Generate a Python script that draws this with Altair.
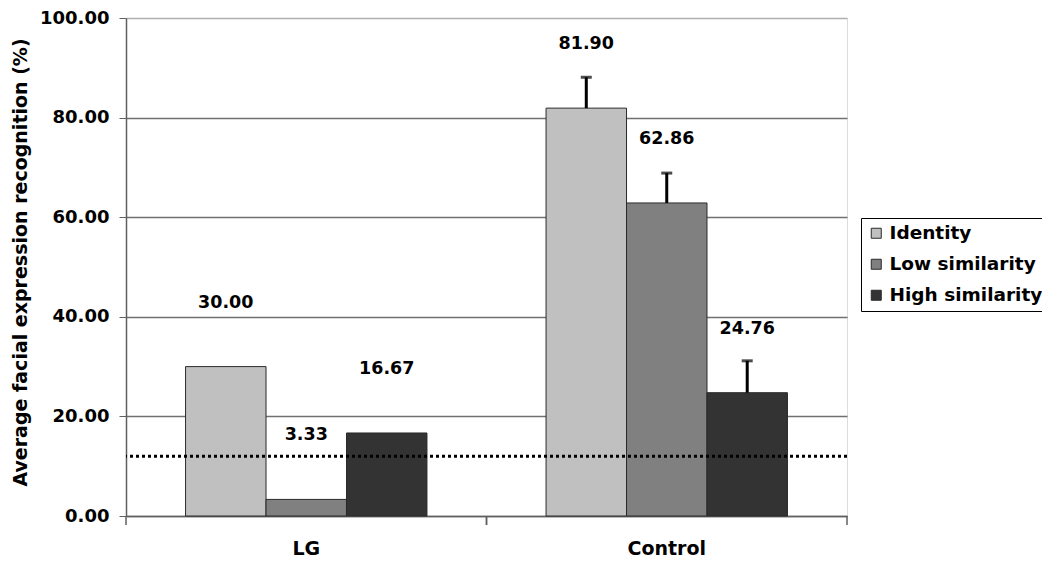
import altair as alt
import pandas as pd

groups = ["LG", "Control"]
series = ["Identity", "Low similarity", "High similarity"]
lg_values = [30.00, 3.33, 16.67]
control_values = [81.90, 62.86, 24.76]
lg_errors = [0.0, 0.0, 0.0]
control_errors = [6.2, 6.0, 6.4]
chance_level = 12.0
y_ticks = [0, 20, 40, 60, 80, 100]
colors = ["#c0c0c0", "#808080", "#333333"]

rows = []
for g, vals, errs in [("LG", lg_values, lg_errors), ("Control", control_values, control_errors)]:
    for s, v, e in zip(series, vals, errs):
        rows.append({"group": g, "series": s, "value": v, "err": e, "top": v + e,
                     "label": f"{v:.2f}"})
df = pd.DataFrame(rows)

FONT = "DejaVu Sans"

x_enc = alt.X("group:N", sort=groups,
              scale=alt.Scale(paddingInner=0, paddingOuter=0),
              axis=alt.Axis(title=None, ticks=False, grid=False, labelAngle=0,
                            labelFont=FONT, labelFontWeight="bold", labelFontSize=19,
                            labelColor="black", labelPadding=32, labelBaseline="middle",
                            domainColor="#606060", domainWidth=1.5))
xo_enc = alt.XOffset("series:N", sort=series,
                     scale=alt.Scale(paddingOuter=0.74, paddingInner=0))
y_scale = alt.Scale(domain=[0, 100], nice=False)

base = alt.Chart(df)

bars = base.mark_bar(stroke="#2a2a2a", strokeWidth=1).encode(
    x=x_enc,
    xOffset=xo_enc,
    y=alt.Y("value:Q", scale=y_scale,
            axis=alt.Axis(values=y_ticks, format=".2f",
                          title="Average facial expression recognition (%)",
                          titleFont=FONT, titleFontWeight="bold", titleFontSize=19,
                          titleColor="black", titleAngle=270, titleAlign="center",
                          titleBaseline="middle", titleX=-106, titleY=244,
                          labelFont=FONT, labelFontWeight="bold", labelFontSize=18,
                          labelColor="black", labelPadding=10, tickSize=7,
                          tickColor="#606060", domainColor="#606060", domainWidth=1.5,
                          grid=True,
                          gridColor={"condition": {"test": "datum.value === 100", "value": "#b0b0b0"},
                                     "value": "#707070"},
                          gridWidth=1.3)),
    color=alt.Color("series:N", sort=series,
                    scale=alt.Scale(domain=series, range=colors),
                    legend=alt.Legend(title=None, orient="none", legendX=735, legendY=200,
                                      symbolType="square", symbolSize=100,
                                      symbolStrokeColor="#2a2a2a", symbolStrokeWidth=1,
                                      symbolOpacity=1,
                                      labelFont=FONT, labelFontWeight="bold",
                                      labelFontSize=18.5, labelColor="black",
                                      labelOffset=4, rowPadding=12, padding=6,
                                      strokeColor="black", fillColor="white")),
)

chance = alt.Chart(pd.DataFrame({"chance": [chance_level]})).mark_rule(
    color="black", strokeWidth=3, strokeDash=[3, 3]
).encode(y=alt.Y("chance:Q", scale=y_scale))

err_df = base.transform_filter("datum.err > 0")
err_rule = err_df.mark_rule(color="black", strokeWidth=3).encode(
    x=alt.X("group:N", sort=groups), xOffset=xo_enc,
    y=alt.Y("value:Q", scale=y_scale), y2="top:Q")
err_cap = err_df.mark_tick(color="black", thickness=3, size=11).encode(
    x=alt.X("group:N", sort=groups), xOffset=xo_enc,
    y=alt.Y("top:Q", scale=y_scale))

labels = base.mark_text(font=FONT, fontWeight="bold", fontSize=17.5, color="black",
                        baseline="middle", dy=-64).encode(
    x=alt.X("group:N", sort=groups), xOffset=xo_enc,
    y=alt.Y("value:Q", scale=y_scale), text="label:N")

tick_df = pd.DataFrame({"group": groups})
ticks_right = alt.Chart(tick_df).mark_rule(color="#606060", strokeWidth=1.5).encode(
    x=alt.X("group:N", sort=groups, bandPosition=1),
    y=alt.value(498), y2=alt.value(507))
ticks_left = alt.Chart(tick_df).mark_rule(color="#606060", strokeWidth=1.5).encode(
    x=alt.X("group:N", sort=groups, bandPosition=0),
    y=alt.value(498), y2=alt.value(507))

chart = alt.layer(bars, chance, err_rule, err_cap, labels, ticks_left, ticks_right).properties(
    width=721, height=498,
    autosize=alt.AutoSizeParams(type="none"),
    padding={"left": 118, "top": 10, "right": 195, "bottom": 46},
).configure_view(stroke="#b0b0b0", strokeWidth=1.5).configure(background="white")

chart.save("out.html", embed_options={"renderer": "svg", "actions": False})
